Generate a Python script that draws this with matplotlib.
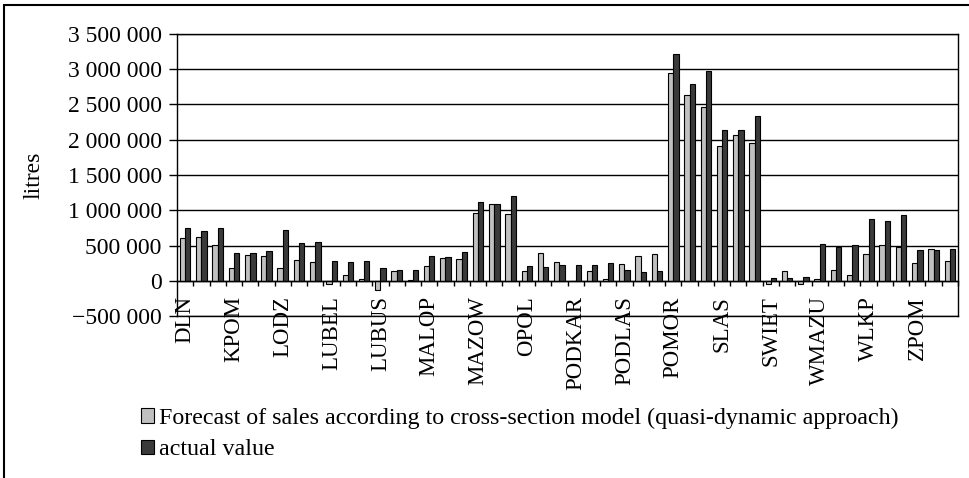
import matplotlib.pyplot as plt
import numpy as np
from matplotlib.patches import Rectangle
from matplotlib.ticker import FuncFormatter

regions = ["DLN", "KPOM", "LODZ", "LUBEL", "LUBUS", "MALOP", "MAZOW", "OPOL",
           "PODKAR", "PODLAS", "POMOR", "SLAS", "SWIET", "WMAZU", "WLKP", "ZPOM"]

# three observations per region, in litres
forecast = [608000, 623000, 509000, 189000, 373000, 358000, 184000, 297000, 269000,
            -50000, 80000, 28000, -132000, 137000, 19000, 208000, 325000, 311000,
            958000, 1085000, 943000, 142000, 401000, 269000, 5000, 142000, 28000,
            241000, 349000, 377000, 2948000, 2627000, 2467000, 1906000, 2071000, 1958000,
            -47000, 142000, -38000, 24000, 160000, 90000, 382000, 509000, 486000,
            250000, 448000, 283000]
actual = [755000, 703000, 745000, 401000, 401000, 429000, 722000, 542000, 557000,
          288000, 274000, 288000, 184000, 156000, 151000, 349000, 344000, 406000,
          1113000, 1094000, 1198000, 212000, 198000, 226000, 231000, 226000, 250000,
          151000, 132000, 146000, 3217000, 2783000, 2967000, 2132000, 2137000, 2335000,
          42000, 42000, 52000, 524000, 481000, 514000, 873000, 849000, 929000,
          443000, 443000, 458000]

series_labels = ["Forecast of sales according to cross-section model (quasi-dynamic approach)",
                 "actual value"]


def fmt_litres(value, _pos):
    return f"{int(round(value)):,}".replace(",", " ").replace("-", "\u2212")


def main() -> None:
    plt.rcParams["font.family"] = ["Liberation Serif", "DejaVu Serif"]
    fig = plt.figure(figsize=(9.69, 4.78), dpi=100)
    ax = fig.add_axes([177 / 969, 1 - 316.3 / 478, 781 / 969, (316.3 - 33.6) / 478])

    x = np.arange(len(forecast))
    width = 0.325
    b1 = ax.bar(x - width / 2, forecast, width, color="#c0c0c0", edgecolor="black", linewidth=0.8,
                label=series_labels[0], zorder=3)
    b2 = ax.bar(x + width / 2, actual, width, color="#3a3a3a", edgecolor="black", linewidth=0.8,
                label=series_labels[1], zorder=3)

    ax.set_xlim(-0.5, len(forecast) - 0.5)
    ax.set_ylim(-500000, 3500000)
    ax.set_yticks(np.arange(-500000, 3500001, 500000))
    ax.yaxis.set_major_formatter(FuncFormatter(fmt_litres))
    ax.grid(axis="y", color="black", linewidth=1.0, zorder=1)
    ax.axhline(ax.get_ylim()[0], color="black", linewidth=1.0, clip_on=False, zorder=1)
    ax.tick_params(axis="y", direction="out", length=6, width=1, labelsize=17, pad=5)

    # category axis sits at zero, labels on every third category
    ax.spines["bottom"].set_position(("data", 0))
    for side in ["left", "right", "top", "bottom"]:
        ax.spines[side].set_color("black")
        ax.spines[side].set_linewidth(1.0)
    ax.spines["bottom"].set_zorder(4)
    ax.set_xticks(np.arange(0.5, len(forecast), 1.0))
    ax.set_xticklabels([])
    ax.tick_params(axis="x", which="major", direction="out", length=3.8, width=1)
    per_region = len(forecast) // len(regions)
    ax.set_xticks(np.arange(0, len(forecast), per_region), minor=True)
    ax.set_xticklabels(regions, minor=True, rotation=90, va="top", ha="center", fontsize=16.5)
    ax.tick_params(axis="x", which="minor", length=0, pad=11)

    ax.set_ylabel("litres", fontsize=17)
    ax.yaxis.set_label_coords(-0.17, 0.5)

    fig.legend(handles=[b1, b2], labels=series_labels, loc="upper left",
               bbox_to_anchor=(141 / 969, 1 - 408 / 478), frameon=False, fontsize=17.3,
               handlelength=0.55, handleheight=0.55, handletextpad=0.2, borderpad=0,
               borderaxespad=0, labelspacing=0.42)

    fig.add_artist(Rectangle((4 / 969, -0.1), 1.2, 1.1 - 5 / 478, transform=fig.transFigure,
                             fill=False, edgecolor="black", linewidth=1.5))

    fig.savefig("out.png", dpi=100)
    plt.close(fig)


if __name__ == "__main__":
    main()
